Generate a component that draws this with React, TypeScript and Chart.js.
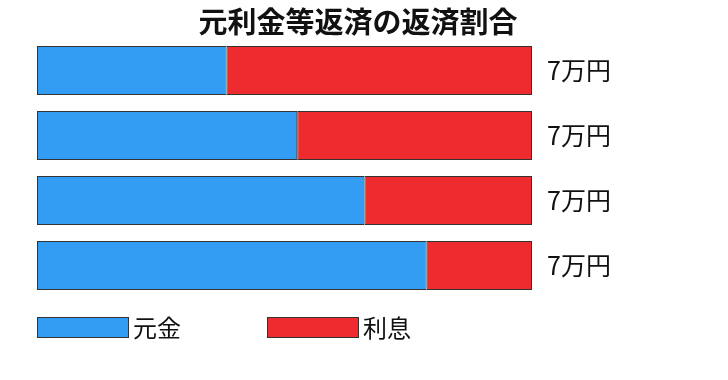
import React, { useEffect, useRef } from "react";
import { Chart, registerables } from "chart.js";

Chart.register(...registerables);

const categories = ["1", "2", "3", "4"];
const principal = [2.68, 3.68, 4.63, 5.51];
const interest = [4.32, 3.32, 2.37, 1.49];
const totalLabels = ["7万円", "7万円", "7万円", "7万円"];
const seriesNames = ["元金", "利息"];
const titleText = "元利金等返済の返済割合";

const BLUE = "#339cf3";
const RED = "#ee2b2f";
const FONT = '"Noto Sans CJK JP", "Noto Sans", sans-serif';

export default function App() {
  const ref = useRef<HTMLCanvasElement | null>(null);

  useEffect(() => {
    document.body.style.margin = "0";
    const canvas = ref.current;
    if (!canvas) return;

    const overlay = {
      id: "overlay",
      afterDraw(chart: any) {
        const ctx = chart.ctx;
        const area = chart.chartArea;
        ctx.save();
        // title
        ctx.fillStyle = "#111";
        ctx.font = `bold 29px ${FONT}`;
        ctx.textAlign = "center";
        ctx.textBaseline = "middle";
        ctx.fillText(titleText, 358, 22);
        // value labels
        ctx.font = `25px ${FONT}`;
        ctx.textAlign = "left";
        const meta = chart.getDatasetMeta(1);
        meta.data.forEach((el: any, i: number) => {
          ctx.fillText(totalLabels[i], area.right + 15, el.y);
        });
        // legend
        const colors = [BLUE, RED];
        const starts = [37, 267];
        seriesNames.forEach((name, i) => {
          const x = starts[i];
          ctx.fillStyle = colors[i];
          ctx.fillRect(x, 317, 92, 21);
          ctx.strokeStyle = "#333";
          ctx.lineWidth = 1;
          ctx.strokeRect(x + 0.5, 317.5, 91, 20);
          ctx.fillStyle = "#111";
          ctx.font = `24px ${FONT}`;
          ctx.textAlign = "left";
          ctx.textBaseline = "middle";
          ctx.fillText(name, x + 96, 328);
        });
        ctx.restore();
      },
    };

    const chart = new Chart(canvas, {
      type: "bar",
      data: {
        labels: categories,
        datasets: [
          {
            label: seriesNames[0],
            data: principal,
            backgroundColor: BLUE,
            borderColor: "#333",
            borderWidth: 1,
            borderSkipped: false,
            barPercentage: 0.754,
            categoryPercentage: 1,
          },
          {
            label: seriesNames[1],
            data: interest,
            backgroundColor: RED,
            borderColor: "#333",
            borderWidth: 1,
            borderSkipped: false,
            barPercentage: 0.754,
            categoryPercentage: 1,
          },
        ],
      },
      options: {
        indexAxis: "y",
        animation: false,
        responsive: false,
        maintainAspectRatio: false,
        layout: { padding: { left: 37, right: 196, top: 38, bottom: 82 } },
        scales: {
          x: { stacked: true, display: false, min: 0, max: 7 },
          y: { stacked: true, display: false },
        },
        plugins: {
          legend: { display: false },
          title: { display: false },
          tooltip: { enabled: false },
        },
      },
      plugins: [overlay],
    });
    return () => chart.destroy();
  }, []);

  return <canvas ref={ref} width={728} height={380} style={{ display: "block" }} />;
}
